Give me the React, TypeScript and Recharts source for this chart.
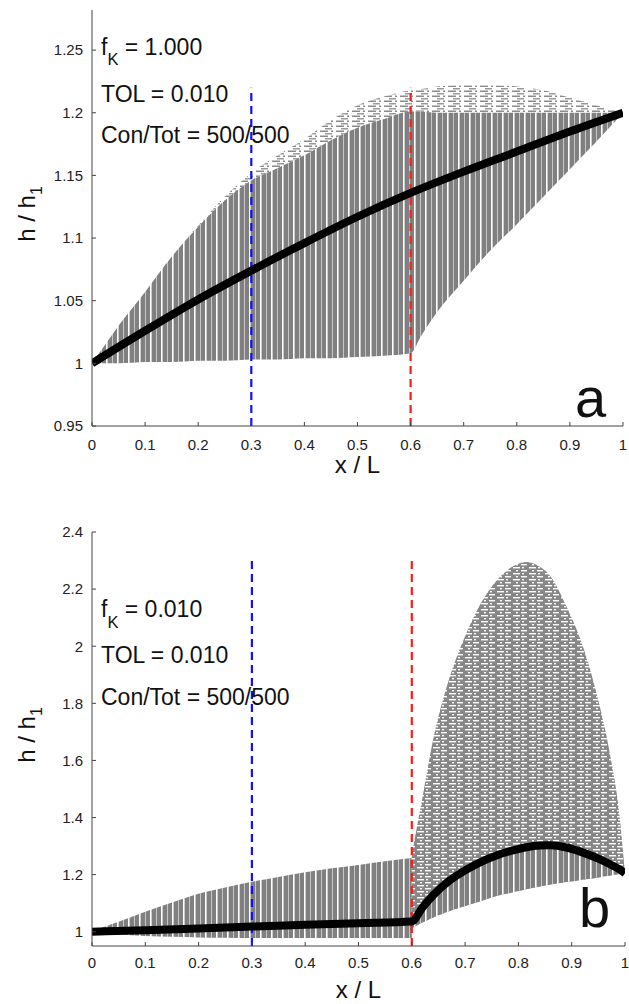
import React from "react";
import { ComposedChart, Area, Line, XAxis, YAxis, Label } from "recharts";

const FONT = '"Liberation Sans", Arial, Helvetica, sans-serif';

// axis ticks
const ticksX = [0, 0.1, 0.2, 0.3, 0.4, 0.5, 0.6, 0.7, 0.8, 0.9, 1];
const ticksYA = [0.95, 1, 1.05, 1.1, 1.15, 1.2, 1.25];
const ticksYB = [1, 1.2, 1.4, 1.6, 1.8, 2, 2.2, 2.4];

// panel a: envelope of the 500 gray realisations
const aX = [0, 0.02, 0.05, 0.1, 0.15, 0.2, 0.25, 0.3, 0.35, 0.4, 0.45, 0.5, 0.55, 0.6, 0.62, 0.65, 0.7, 0.75, 0.8, 0.85, 0.9, 0.95, 1];
const aLow = [1, 1, 1, 1.001, 1.001, 1.002, 1.002, 1.003, 1.003, 1.004, 1.004, 1.005, 1.006, 1.008, 1.022, 1.041, 1.066, 1.09, 1.111, 1.133, 1.155, 1.177, 1.2];
const aDense = [1, 1.012, 1.03, 1.057, 1.085, 1.109, 1.13, 1.146, 1.156, 1.166, 1.178, 1.188, 1.195, 1.201, 1.201, 1.2, 1.2, 1.2, 1.2, 1.2, 1.2, 1.2, 1.2];
const aHigh = [1, 1.012, 1.03, 1.057, 1.085, 1.11, 1.133, 1.152, 1.166, 1.179, 1.194, 1.206, 1.213, 1.218, 1.219, 1.221, 1.222, 1.222, 1.221, 1.218, 1.212, 1.206, 1.2];
// panel a: black (reference) curve
const aBlackX = [0, 0.1, 0.2, 0.3, 0.4, 0.5, 0.6, 0.7, 0.8, 0.9, 1];
const aBlack = [1, 1.026, 1.051, 1.074, 1.096, 1.117, 1.136, 1.153, 1.169, 1.185, 1.2];

// panel b: left band (x < 0.6)
const bLeftX = [0, 0.02, 0.05, 0.1, 0.15, 0.2, 0.25, 0.3, 0.35, 0.4, 0.45, 0.5, 0.55, 0.6];
const bLeftLow = [1, 0.995, 0.99, 0.985, 0.982, 0.98, 0.979, 0.978, 0.978, 0.978, 0.978, 0.978, 0.978, 0.978];
const bLeftHigh = [1, 1.015, 1.035, 1.07, 1.102, 1.133, 1.155, 1.175, 1.192, 1.208, 1.222, 1.234, 1.247, 1.258];
// panel b: right band (x > 0.6)
const bRightX = [0.6, 0.62, 0.64, 0.67, 0.7, 0.73, 0.76, 0.79, 0.815, 0.84, 0.86, 0.89, 0.92, 0.95, 0.97, 0.99, 1];
const bRightLow = [1.012, 1.032, 1.05, 1.072, 1.09, 1.108, 1.126, 1.138, 1.149, 1.158, 1.165, 1.174, 1.182, 1.19, 1.196, 1.202, 1.205];
const bRightHigh = [1.27, 1.47, 1.672, 1.885, 2.035, 2.152, 2.232, 2.28, 2.295, 2.278, 2.245, 2.14, 2.005, 1.81, 1.64, 1.4, 1.205];
const bRightBlack = [1.036, 1.085, 1.128, 1.178, 1.215, 1.245, 1.268, 1.285, 1.296, 1.302, 1.303, 1.295, 1.278, 1.256, 1.238, 1.218, 1.205];
// panel b: black curve, flat part before x = 0.6
const bBlackLeftX = [0, 0.1, 0.2, 0.3, 0.4, 0.5];
const bBlackLeft = [1, 1.005, 1.011, 1.018, 1.024, 1.03];

// dashed guides at x = 0.3 (blue) and x = 0.6 (red)
const guideX = [0.3, 0.6];
const guideColors = ["#1010ff", "#ff1a1a"];
const guideTopA = 1.22;
const guideTopB = 2.3;

const rangeRows = (xs: number[], lo: number[], hi: number[]) =>
  xs.map((x, i) => ({ x, r: [lo[i], hi[i]] }));
const lineRows = (xs: number[], ys: number[]) => xs.map((x, i) => ({ x, y: ys[i] }));

const fmt = (v: number) => String(+v.toFixed(2));

const YLab = ({ viewBox }: any) => {
  const cy = viewBox.y + viewBox.height / 2 - 4;
  return (
    <text
      transform={`translate(35, ${cy}) rotate(-90)`}
      textAnchor="middle"
      fontSize={24}
      fontFamily={FONT}
      fill="#111"
    >
      h / h
      <tspan fontSize={16} dy={7}>
        1
      </tspan>
    </text>
  );
};

// textures standing in for the many overlapping dash-dot gray curves
const Textures = ({ p }: { p: string }) => (
  <defs>
    <pattern id={`${p}-stripe`} width="11" height="10" patternUnits="userSpaceOnUse">
      <rect width="11" height="10" fill="#808080" />
      <rect x="7" width="1.6" height="10" fill="#ffffff" />
      <rect x="2" width="0.8" height="10" fill="#d8d8d8" />
    </pattern>
    <pattern id={`${p}-speck`} width="16" height="6" patternUnits="userSpaceOnUse">
      <rect width="16" height="6" fill="#888888" />
      <rect x="1" y="1" width="7" height="1.4" fill="#ffffff" />
      <rect x="10" y="1" width="2" height="1.4" fill="#ffffff" />
      <rect x="4" y="4" width="2" height="1.4" fill="#ffffff" />
      <rect x="9" y="4" width="6" height="1.4" fill="#ffffff" />
    </pattern>
    <pattern id={`${p}-light`} width="16" height="5" patternUnits="userSpaceOnUse">
      <rect width="16" height="5" fill="#ffffff" />
      <rect x="0" y="0.5" width="8" height="1.5" fill="#8a8a8a" />
      <rect x="11" y="0.5" width="2" height="1.5" fill="#8a8a8a" />
      <rect x="5" y="3" width="7" height="1.5" fill="#9a9a9a" />
    </pattern>
  </defs>
);

const axisCommon = {
  stroke: "#444",
  tick: { fill: "#222", fontSize: 15, fontFamily: FONT },
  tickSize: -4,
  interval: 0 as const,
  allowDataOverflow: true,
};

const PanelA = () => (
  <ComposedChart width={629} height={500} margin={{ top: 10, right: 6, bottom: 24, left: 42 }}>
    <Textures p="a" />
    <XAxis
      dataKey="x"
      type="number"
      domain={[0, 1]}
      ticks={ticksX}
      tickFormatter={fmt}
      height={50}
      tickMargin={17}
      {...axisCommon}
    >
      <Label value="x / L" position="insideBottom" offset={3} fontSize={24} fill="#111" fontFamily={FONT} />
    </XAxis>
    <YAxis
      type="number"
      domain={[0.95, 1.282]}
      ticks={ticksYA}
      tickFormatter={fmt}
      width={50}
      tickMargin={13}
      {...axisCommon}
    >
      <Label content={<YLab />} />
    </YAxis>
    <Area
      data={rangeRows(aX, aDense, aHigh)}
      dataKey="r"
      type="monotone"
      stroke="none"
      fill="url(#a-light)"
      fillOpacity={1}
      isAnimationActive={false}
    />
    <Area
      data={rangeRows(aX, aLow, aDense)}
      dataKey="r"
      type="monotone"
      stroke="none"
      fill="url(#a-stripe)"
      fillOpacity={1}
      isAnimationActive={false}
    />
    {guideX.map((gx, i) => (
      <Line
        key={gx}
        data={lineRows([gx, gx], [0.95, guideTopA])}
        dataKey="y"
        stroke={guideColors[i]}
        strokeWidth={2.2}
        strokeDasharray="8 5"
        dot={false}
        isAnimationActive={false}
      />
    ))}
    <Line
      data={lineRows(aBlackX, aBlack)}
      dataKey="y"
      type="monotone"
      stroke="#000"
      strokeWidth={8}
      dot={false}
      isAnimationActive={false}
    />
  </ComposedChart>
);

const PanelB = () => (
  <ComposedChart width={629} height={504} margin={{ top: 32, right: 4, bottom: 0, left: 42 }}>
    <Textures p="b" />
    <XAxis
      dataKey="x"
      type="number"
      domain={[0, 1]}
      ticks={ticksX}
      tickFormatter={fmt}
      height={58}
      tickMargin={15}
      {...axisCommon}
    >
      <Label value="x / L" position="insideBottom" offset={6} fontSize={24} fill="#111" fontFamily={FONT} />
    </XAxis>
    <YAxis
      type="number"
      domain={[0.95, 2.4]}
      ticks={ticksYB}
      tickFormatter={fmt}
      width={50}
      tickMargin={13}
      {...axisCommon}
    >
      <Label content={<YLab />} />
    </YAxis>
    <Area
      data={rangeRows(bLeftX, bLeftLow, bLeftHigh)}
      dataKey="r"
      type="monotone"
      stroke="none"
      fill="url(#b-stripe)"
      fillOpacity={1}
      isAnimationActive={false}
    />
    <Area
      data={rangeRows(bRightX, bRightLow, bRightHigh)}
      dataKey="r"
      type="monotone"
      stroke="none"
      fill="url(#b-speck)"
      fillOpacity={1}
      isAnimationActive={false}
    />
    <Area
      data={rangeRows(bRightX, bRightLow, bRightBlack)}
      dataKey="r"
      type="monotone"
      stroke="none"
      fill="url(#b-stripe)"
      fillOpacity={1}
      isAnimationActive={false}
    />
    {guideX.map((gx, i) => (
      <Line
        key={gx}
        data={lineRows([gx, gx], [0.95, guideTopB])}
        dataKey="y"
        stroke={guideColors[i]}
        strokeWidth={2.2}
        strokeDasharray="8 5"
        dot={false}
        isAnimationActive={false}
      />
    ))}
    <Line
      data={lineRows([...bBlackLeftX, ...bRightX], [...bBlackLeft, ...bRightBlack])}
      dataKey="y"
      type="monotone"
      stroke="#000"
      strokeWidth={8}
      dot={false}
      isAnimationActive={false}
    />
  </ComposedChart>
);

const Note = ({ x, y, sub, value }: { x: number; y: number; sub: number; value: string }) => (
  <text x={x} y={y} fontSize={23} fontFamily={FONT} fill="#111">
    f
    <tspan fontSize={16.5} dy={sub}>
      K
    </tspan>
    <tspan dy={-sub}>{` = ${value}`}</tspan>
  </text>
);

const Text = ({ x, y, size = 23, children }: any) => (
  <text x={x} y={y} fontSize={size} fontFamily={FONT} fill="#111">
    {children}
  </text>
);

export default function App() {
  return (
    <div style={{ position: "absolute", left: 0, top: 0, width: 629, height: 1004, background: "#fff" }}>
      <div style={{ position: "absolute", left: 0, top: 0 }}>
        <PanelA />
      </div>
      <div style={{ position: "absolute", left: 0, top: 500 }}>
        <PanelB />
      </div>
      <svg
        width={629}
        height={1004}
        style={{ position: "absolute", left: 0, top: 0, pointerEvents: "none" }}
      >
        <Note x={101} y={55} sub={10} value="1.000" />
        <Text x={101} y={102}>TOL = 0.010</Text>
        <Text x={101} y={143}>Con/Tot = 500/500</Text>
        <Text x={575} y={417} size={56}>a</Text>

        <Note x={101} y={617} sub={11} value="0.010" />
        <Text x={101} y={663}>TOL = 0.010</Text>
        <Text x={101} y={705}>Con/Tot = 500/500</Text>
        <Text x={579} y={927} size={56}>b</Text>
      </svg>
    </div>
  );
}
